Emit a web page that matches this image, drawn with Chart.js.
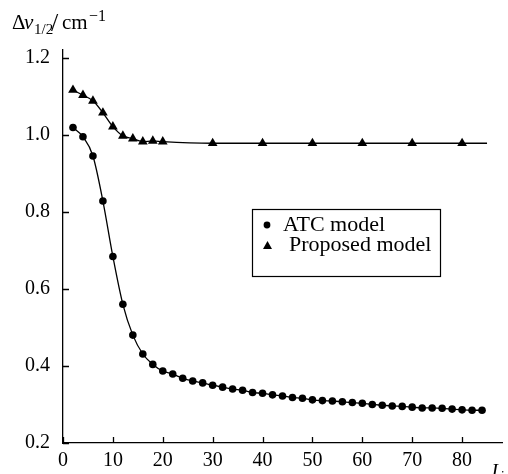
<!DOCTYPE html>
<html>
<head>
<meta charset="utf-8">
<script src="https://cdn.jsdelivr.net/npm/chart.js@4.4.1/dist/chart.umd.min.js"></script>
<style>
  html, body { margin: 0; padding: 0; background: #fff; }
  #wrap { width: 508px; height: 474px; }
</style>
</head>
<body>
<div id="wrap"><canvas id="lineChart" width="508" height="474"></canvas></div>
<script>
// J values and line widths
var atcJ = [2, 4, 6, 8, 10, 12, 14, 16, 18, 20, 22, 24, 26, 28, 30, 32, 34, 36, 38, 40, 42,
            44, 46, 48, 50, 52, 54, 56, 58, 60, 62, 64, 66, 68, 70, 72, 74, 76, 78, 80, 82, 84];
var atcWidth = [1.019, 0.995, 0.945, 0.828, 0.684, 0.560, 0.480, 0.431, 0.404, 0.387, 0.379,
                0.368, 0.361, 0.356, 0.350, 0.345, 0.340, 0.337, 0.331, 0.329, 0.325, 0.322,
                0.318, 0.316, 0.312, 0.310, 0.309, 0.307, 0.305, 0.303, 0.300, 0.298, 0.296,
                0.295, 0.293, 0.291, 0.291, 0.290, 0.288, 0.286, 0.285, 0.285];

var proposedJ = [2, 4, 6, 8, 10, 12, 14, 16, 18, 20, 30, 40, 50, 60, 70, 80, 85];
var proposedWidth = [1.116, 1.103, 1.088, 1.057, 1.021, 0.997, 0.990, 0.982, 0.984, 0.982,
                     0.978, 0.978, 0.978, 0.978, 0.978, 0.978, 0.978];
// last point of the proposed curve is only the end of the line, no marker
var proposedMarker = [true, true, true, true, true, true, true, true, true, true,
                      true, true, true, true, true, true, false];

var xTicks = [0, 10, 20, 30, 40, 50, 60, 70, 80];
var yTicks = [0.2, 0.4, 0.6, 0.8, 1.0, 1.2];

var serif = "'Liberation Serif', 'DejaVu Serif', serif";

function toPoints(xs, ys) {
    return xs.map(function (x, i) { return { x: x, y: ys[i] }; });
}

// draws the inward ticks, the axis titles and the boxed legend
var decorPlugin = {
    id: "decor",
    afterDraw: function (chart) {
        var ctx = chart.ctx;
        var xs = chart.scales.x;
        var ys = chart.scales.y;
        ctx.save();
        ctx.strokeStyle = "#000";
        ctx.lineWidth = 1.3;
        ctx.beginPath();
        xTicks.forEach(function (v) {
            var px = Math.round(xs.getPixelForValue(v)) + 0.5;
            ctx.moveTo(px, ys.bottom);
            ctx.lineTo(px, ys.bottom - 6);
        });
        yTicks.forEach(function (v) {
            var py = Math.round(ys.getPixelForValue(v)) + 0.5;
            ctx.moveTo(xs.left, py);
            ctx.lineTo(xs.left + 6, py);
        });
        ctx.stroke();

        // y axis title: Δv1/2/cm-1
        ctx.fillStyle = "#000";
        ctx.textBaseline = "alphabetic";
        ctx.textAlign = "left";
        ctx.font = "21px " + serif;
        ctx.fillText("\u0394", 12, 29);
        ctx.font = "italic 21px " + serif;
        ctx.fillText("v", 24, 29);
        ctx.font = "15px " + serif;
        ctx.fillText("1/2", 34, 34);
        ctx.font = "26px " + serif;
        ctx.fillText("/", 51, 31);
        ctx.font = "21px " + serif;
        ctx.fillText("cm", 62, 29);
        ctx.font = "16px " + serif;
        ctx.fillText("\u22121", 89, 21);

        // x axis title: J_i (cut by the edge)
        ctx.font = "italic 20px " + serif;
        ctx.fillText("J", 489, 478);
        ctx.font = "italic 14px " + serif;
        ctx.fillText("i", 500, 481);

        // legend box
        ctx.lineWidth = 1.2;
        ctx.strokeRect(252.5, 209.5, 188, 67);
        ctx.font = "22px " + serif;
        ctx.fillText(chart.data.datasets[0].label, 283, 231);
        ctx.fillText(chart.data.datasets[1].label, 289, 251);
        ctx.beginPath();
        ctx.arc(267, 225, 3.4, 0, Math.PI * 2);
        ctx.fill();
        ctx.beginPath();
        ctx.moveTo(267.5, 241);
        ctx.lineTo(272, 249);
        ctx.lineTo(263, 249);
        ctx.closePath();
        ctx.fill();
        ctx.restore();
    }
};

document.addEventListener("DOMContentLoaded", function () {
    var ctx = document.getElementById("lineChart").getContext("2d");

    new Chart(ctx, {
        type: "line",
        data: {
            datasets: [
                {
                    label: "ATC model",
                    data: toPoints(atcJ, atcWidth),
                    borderColor: "#000",
                    backgroundColor: "#000",
                    borderWidth: 1.3,
                    pointStyle: "circle",
                    pointRadius: 3.8,
                    pointBorderWidth: 0,
                    cubicInterpolationMode: "monotone",
                    clip: false,
                },
                {
                    label: "Proposed model",
                    data: toPoints(proposedJ, proposedWidth),
                    borderColor: "#000",
                    backgroundColor: "#000",
                    borderWidth: 1.3,
                    pointStyle: "triangle",
                    pointRadius: proposedMarker.map(function (m) { return m ? 5.6 : 0; }),
                    pointBorderWidth: 0,
                    cubicInterpolationMode: "monotone",
                    clip: false,
                },
            ],
        },
        options: {
            responsive: false,
            animation: false,
            devicePixelRatio: 1,
            layout: { padding: { top: 50, right: 6, left: 0, bottom: 0 } },
            plugins: {
                legend: { display: false },
                tooltip: { enabled: false },
            },
            scales: {
                x: {
                    type: "linear",
                    min: 0,
                    max: 88,
                    grid: { display: false, drawTicks: false },
                    border: { display: true, color: "#000", width: 1.3 },
                    ticks: {
                        stepSize: 10,
                        padding: 6,
                        color: "#000",
                        font: { family: serif, size: 20 },
                    },
                    afterBuildTicks: function (scale) {
                        scale.ticks = xTicks.map(function (v) { return { value: v }; });
                    },
                    afterFit: function (scale) { scale.height = 31; },
                },
                y: {
                    type: "linear",
                    min: 0.2,
                    max: 1.22,
                    grid: { display: false, drawTicks: false },
                    border: { display: true, color: "#000", width: 1.3 },
                    ticks: {
                        stepSize: 0.2,
                        padding: 13,
                        color: "#000",
                        font: { family: serif, size: 20 },
                        callback: function (value) { return Number(value).toFixed(1); },
                    },
                    afterBuildTicks: function (scale) {
                        scale.ticks = yTicks.map(function (v) { return { value: v }; });
                    },
                    afterFit: function (scale) { scale.width = 63; },
                },
            },
        },
        plugins: [decorPlugin],
    });
});
</script>
</body>
</html>
